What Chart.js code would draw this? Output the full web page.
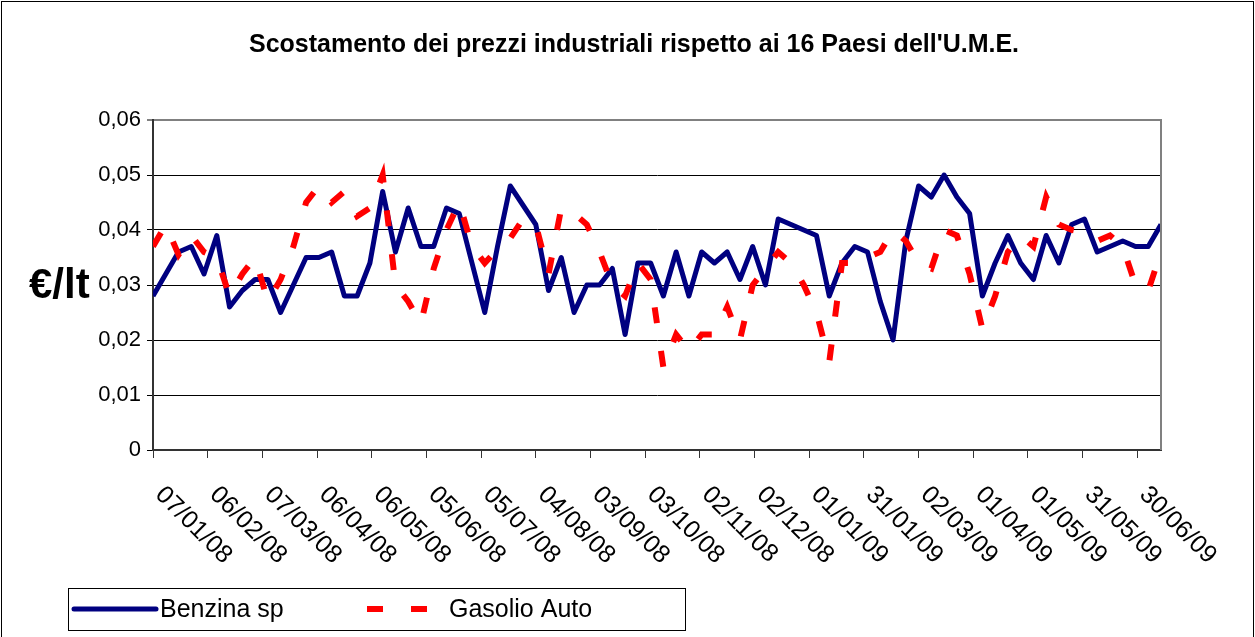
<!DOCTYPE html>
<html>
<head>
<meta charset="utf-8">
<script src="https://cdn.jsdelivr.net/npm/chart.js@4.4.1/dist/chart.umd.min.js"></script>
<style>
  html, body { margin: 0; padding: 0; background: #fff; }
  canvas { display: block; }
</style>
</head>
<body>
<canvas id="prezziChart" width="1255" height="637"></canvas>
<script>
// weekly readings, first one on 07/01/08 (x = days after that date)
const weekDays = [];
for (let w = 0; w < 80; w++) weekDays.push(w * 7);

// Benzina sp (€/lt)
const benzina = [
  0.028, 0.032, 0.036, 0.037, 0.032, 0.039, 0.026, 0.029, 0.031, 0.031,
  0.025, 0.030, 0.035, 0.035, 0.036, 0.028, 0.028, 0.034, 0.047, 0.036,
  0.044, 0.037, 0.037, 0.044, 0.043, 0.034, 0.025, 0.037, 0.048, 0.0445,
  0.041, 0.029, 0.035, 0.025, 0.030, 0.030, 0.033, 0.021, 0.034, 0.034,
  0.028, 0.036, 0.028, 0.036, 0.034, 0.036, 0.031, 0.037, 0.030, 0.042,
  0.041, 0.040, 0.039, 0.028, 0.034, 0.037, 0.036, 0.027, 0.020, 0.038,
  0.048, 0.046, 0.050, 0.046, 0.043, 0.028, 0.034, 0.039, 0.034, 0.031,
  0.039, 0.034, 0.041, 0.042, 0.036, 0.037, 0.038, 0.037, 0.037, 0.041
];

// Gasolio Auto (€/lt)
const gasolio = [
  0.037, 0.041, 0.0355, 0.039, 0.036, 0.035, 0.028, 0.032, 0.035, 0.027,
  0.031, 0.037, 0.045, 0.048, 0.045, 0.047, 0.0425, 0.044, 0.050, 0.030,
  0.027, 0.023, 0.033, 0.040, 0.045, 0.037, 0.034, 0.0365, 0.0385, 0.042,
  0.041, 0.032, 0.044, 0.043, 0.041, 0.036, 0.030, 0.028, 0.034, 0.031,
  0.015, 0.021, 0.018, 0.021, 0.021, 0.026, 0.020, 0.030, 0.033, 0.036,
  0.034, 0.030, 0.025, 0.016, 0.034, 0.034, 0.035, 0.036, 0.040, 0.038,
  0.034, 0.033, 0.040, 0.039, 0.032, 0.022, 0.028, 0.036, 0.039, 0.037,
  0.046, 0.041, 0.040, 0.0395, 0.038, 0.039, 0.037, 0.030, 0.029, 0.036
];

const seriesNames = ['Benzina sp', 'Gasolio Auto'];
const tickLabels = ['07/01/08', '06/02/08', '07/03/08', '06/04/08', '06/05/08', '05/06/08',
  '05/07/08', '04/08/08', '03/09/08', '03/10/08', '02/11/08', '02/12/08', '01/01/09',
  '31/01/09', '02/03/09', '01/04/09', '01/05/09', '31/05/09', '30/06/09'];
const tickDays = tickLabels.map((t, i) => i * 30);
const yTickValues = [0, 0.01, 0.02, 0.03, 0.04, 0.05, 0.06];
const yTickLabels = ['0', '0,01', '0,02', '0,03', '0,04', '0,05', '0,06'];
const chartTitle = "Scostamento dei prezzi industriali rispetto ai 16 Paesi dell'U.M.E.";
const yTitle = '€/lt';

const FONT = '"Liberation Sans", Arial, sans-serif';
const blue = '#000080';
const red = '#FF0000';
const redDash = [16, 28];

// frame, titles, slanted date labels and the boxed legend
const decorPlugin = {
  id: 'decor',
  beforeDraw(chart) {
    const ctx = chart.ctx;
    ctx.save();
    ctx.fillStyle = '#fff';
    ctx.fillRect(0, 0, chart.width, chart.height);
    ctx.strokeStyle = '#000';
    ctx.lineWidth = 1;
    ctx.strokeRect(1.5, 1.5, chart.width - 3, chart.height + 20);
    ctx.restore();
  },
  afterDraw(chart) {
    const ctx = chart.ctx;
    const area = chart.chartArea;
    const xs = chart.scales.x;
    ctx.save();

    // plot area border (right side)
    ctx.strokeStyle = '#808080';
    ctx.lineWidth = 2;
    ctx.beginPath();
    ctx.moveTo(area.right, area.top - 1);
    ctx.lineTo(area.right, area.bottom);
    ctx.stroke();

    ctx.fillStyle = '#000';
    ctx.font = 'bold 25px ' + FONT;
    ctx.textAlign = 'center';
    ctx.textBaseline = 'middle';
    ctx.fillText(chartTitle, 634, 45);

    ctx.font = 'bold 42px ' + FONT;
    ctx.textAlign = 'left';
    ctx.fillText(yTitle, 29, 286);

    // date labels, slanted downwards
    ctx.font = '25px ' + FONT;
    tickDays.forEach((d, i) => {
      const px = xs.getPixelForValue(d);
      ctx.save();
      ctx.translate(px + 6, area.bottom + 41);
      ctx.rotate(Math.PI / 4);
      ctx.textAlign = 'left';
      ctx.textBaseline = 'middle';
      ctx.fillText(tickLabels[i], 0, 0);
      ctx.restore();
    });

    // legend
    ctx.strokeStyle = '#000';
    ctx.lineWidth = 1;
    ctx.strokeRect(68.5, 588.5, 617, 42);
    ctx.lineWidth = 5;
    ctx.lineCap = 'round';
    ctx.strokeStyle = blue;
    ctx.beginPath();
    ctx.moveTo(74, 609);
    ctx.lineTo(156, 609);
    ctx.stroke();
    ctx.lineCap = 'butt';
    ctx.lineWidth = 6;
    ctx.strokeStyle = red;
    ctx.setLineDash(redDash);
    ctx.beginPath();
    ctx.moveTo(367, 609);
    ctx.lineTo(429, 609);
    ctx.stroke();
    ctx.setLineDash([]);
    ctx.font = '25px ' + FONT;
    ctx.fillStyle = '#000';
    ctx.textAlign = 'left';
    ctx.textBaseline = 'middle';
    ctx.fillText(seriesNames[0], 160, 610);
    ctx.fillText(seriesNames[1], 449, 610);

    ctx.restore();
  }
};

const ctx = document.getElementById('prezziChart').getContext('2d');
new Chart(ctx, {
  type: 'line',
  data: {
    datasets: [
      {
        label: seriesNames[0],
        data: benzina.map((v, i) => ({ x: weekDays[i], y: v })),
        borderColor: blue,
        borderWidth: 5,
        borderJoinStyle: 'round',
        pointRadius: 0,
        tension: 0,
        order: 1
      },
      {
        label: seriesNames[1],
        data: gasolio.map((v, i) => ({ x: weekDays[i], y: v })),
        borderColor: red,
        borderWidth: 6,
        borderDash: redDash,
        borderCapStyle: 'butt',
        pointRadius: 0,
        tension: 0,
        order: 0
      }
    ]
  },
  options: {
    responsive: false,
    animation: false,
    devicePixelRatio: 1,
    layout: { padding: { left: 0, top: 120, right: 94, bottom: 0 } },
    plugins: {
      legend: { display: false },
      tooltip: { enabled: false }
    },
    scales: {
      x: {
        type: 'linear',
        min: 0,
        max: 553,
        afterBuildTicks: (s) => { s.ticks = tickDays.map(v => ({ value: v })); },
        afterFit: (s) => { s.height = 187; },
        ticks: { display: false },
        grid: { drawOnChartArea: false, drawTicks: true, tickLength: 8, color: '#333', lineWidth: 1 },
        border: { display: true, color: '#333', width: 2 }
      },
      y: {
        min: 0,
        max: 0.06,
        afterBuildTicks: (s) => { s.ticks = yTickValues.map(v => ({ value: v })); },
        afterFit: (s) => { s.width = 153; },
        ticks: {
          color: '#000',
          padding: 6,
          font: { family: FONT, size: 22 },
          callback: (v, i) => yTickLabels[i]
        },
        grid: {
          color: (c) => (c.tick && c.tick.value >= 0.06 ? '#808080' : '#000'),
          lineWidth: (c) => (c.tick && c.tick.value >= 0.06 ? 2 : 1),
          tickLength: 6
        },
        border: { display: true, color: '#333', width: 2 }
      }
    }
  },
  plugins: [decorPlugin]
});
</script>
</body>
</html>
